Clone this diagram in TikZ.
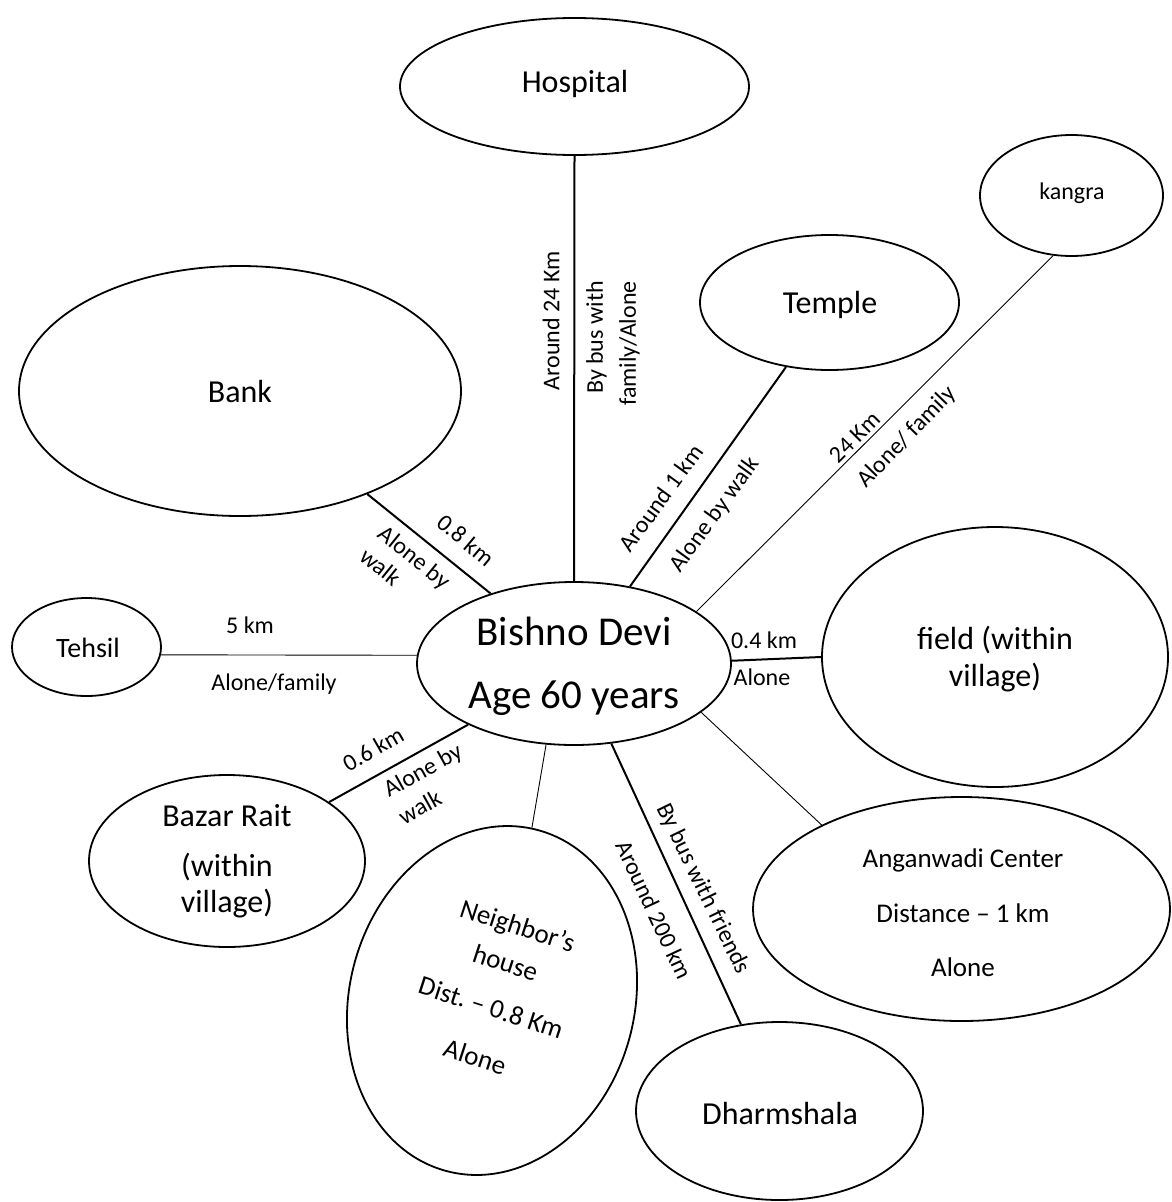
\documentclass[tikz,border=0pt]{standalone}
\usepackage{fontspec}
\setmainfont{Carlito}
\usetikzlibrary{shapes.geometric}
\begin{document}
\begin{tikzpicture}[x=1pt,y=-1pt,
  place/.style={draw, ellipse, line width=1.8pt, inner sep=0pt},
  strong/.style={line width=2pt},
  faint/.style={line width=0.9pt},
  lbl/.style={font=\fontsize{24}{29}\selectfont, inner sep=0pt},
  big/.style={font=\fontsize{32}{38}\selectfont, inner sep=0pt, align=center},
  mid/.style={font=\fontsize{27}{32}\selectfont, inner sep=0pt, align=center}]
\useasboundingbox (0,0) rectangle (1171,1202);

% places
\node[place, minimum width=349pt, minimum height=137pt] (hospital) at (574.5,86.5) {};
\node[place, minimum width=183pt, minimum height=121pt] (kangra) at (1071.5,195.5) {};
\node[place, minimum width=259pt, minimum height=135pt] (temple) at (829.5,302.5) {};
\node[place, minimum width=442pt, minimum height=250pt] (bank) at (240,391) {};
\node[place, minimum width=149pt, minimum height=98pt] (tehsil) at (86.5,647) {};
\node[place, minimum width=314pt, minimum height=163pt] (bishno) at (574,663.5) {};
\node[place, minimum width=346pt, minimum height=260pt] (field) at (995,657) {};
\node[place, minimum width=276pt, minimum height=172pt] (bazar) at (227,861) {};
\node[place, minimum width=417pt, minimum height=224pt] (anganwadi) at (961.5,909) {};
\node[place, minimum width=287pt, minimum height=178pt] (dharmshala) at (779.5,1111) {};
\node[place, minimum width=285pt, minimum height=353pt, rotate=-15] (neighbor) at (492,1000.5) {};

% texts inside the places
\node[big] (hospitalt) at (575,84) {Hospital};
\node[lbl] (kangrat) at (1072,193) {kangra};
\node[big] (templet) at (830,305) {Temple};
\node[big] (bankt) at (240,392) {Bank};
\node[mid, font=\fontsize{28}{32}\selectfont] (tehsilt) at (88,648) {Tehsil};
\node[big, font=\fontsize{41}{63}\selectfont] (bishnot) at (574,666) {Bishno Devi\\Age 60 years};
\node[big, font=\fontsize{32}{37}\selectfont] (fieldt) at (995,659) {field (within\\village)};
\node[big, font=\fontsize{32}{36}\selectfont] (bazart) at (227,861) {Bazar Rait\\[14pt](within\\village)};
\node[mid, font=\fontsize{27}{54.5}\selectfont] (anganwadit) at (963,913) {Anganwadi Center\\Distance – 1 km\\Alone};
\node[big] (dharmshalat) at (780,1113) {Dharmshala};
\node[mid, rotate=-18, font=\fontsize{27}{39}\selectfont] (neighbort) at (496.5,991) {Neighbor’s\\house\\[8pt]Dist.\ – 0.8 Km\\[13pt]Alone};

% connectors
\draw[strong] (hospital.south) -- (bishno.north);
\draw[strong] (temple.236) -- (bishno.54.6);
\draw[faint] (kangra.253) -- (bishno.23.5);
\draw[strong] (bank.-39) -- (bishno.140.7);
\draw[faint] (tehsil.-6) -- (bishno.177);
\draw[strong] (field.180) -- (bishno.1);
\draw[faint] (anganwadi.149.3) -- (bishno.-21);
\draw[strong] (dharmshala.114.7) -- (bishno.-65.6);
\draw[faint] (neighbor.92) -- (bishno.-109);
\draw[strong] (bazar.30) -- (bishno.210);

% connector labels
\node[lbl, rotate=90] (l1) at (551,321) {Around 24 Km};
\node[lbl, rotate=90, align=right, font=\fontsize{24}{33}\selectfont] (l2) at (613,343.5) {By bus with\\family/Alone};
\node[lbl, rotate=54] (l3) at (661,498) {Around 1 km};
\node[lbl, rotate=54] (l4) at (715,515) {Alone by walk};
\node[lbl, rotate=45] (l5) at (855,437.5) {24 Km};
\node[lbl, rotate=46] (l6) at (907,437.5) {Alone/ family};
\node[lbl, rotate=-40] (l7) at (466,540) {0.8 km};
\node[lbl, rotate=-39, align=left] (l8) at (405.8,568.3) {Alone by\\walk};
\node[lbl] (l9) at (250,625) {5 km};
\node[lbl] (l10) at (274,684) {Alone/family};
\node[lbl] (l11) at (764,640) {0.4 km};
\node[lbl] (l12) at (762,677) {Alone};
\node[lbl, rotate=30] (l13) at (373,749) {0.6 km};
\node[lbl, rotate=29, align=left, font=\fontsize{24}{31}\selectfont] (l14) at (430,783.6) {Alone by\\walk};
\node[lbl, rotate=-64] (l15) at (703,889) {By bus with friends};
\node[lbl, rotate=-65] (l16) at (654,910) {Around 200 km};
\end{tikzpicture}
\end{document}
